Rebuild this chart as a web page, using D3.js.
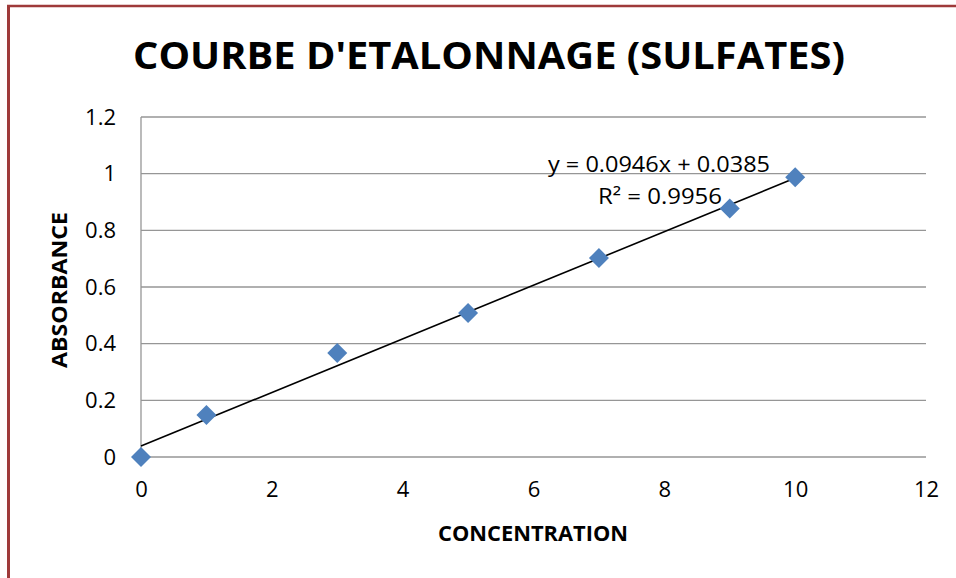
<!DOCTYPE html>
<html>
<head>
<meta charset="utf-8">
<script src="https://cdn.jsdelivr.net/npm/d3@7"></script>
<style>
  html, body { margin: 0; padding: 0; background: #fff; }
  svg { display: block; }
</style>
</head>
<body>
<svg id="chart" width="956" height="578"></svg>
<script>
// ---- data ----
const concentration = [0, 1, 3, 5, 7, 9, 10];
const absorbance = [0.0, 0.148, 0.367, 0.508, 0.702, 0.877, 0.987];
const xTicks = [0, 2, 4, 6, 8, 10, 12];
const yTicks = [0, 0.2, 0.4, 0.6, 0.8, 1, 1.2];
const slope = 0.0946;
const intercept = 0.0385;
const r2 = 0.9956;
const titleText = "COURBE D'ETALONNAGE (SULFATES)";
const xTitle = "CONCENTRATION";
const yTitle = "ABSORBANCE";

const svg = d3.select("#chart");
const font = "'Open Sans', Lato, sans-serif";

const x = d3.scaleLinear().domain([0, 12]).range([141, 926]);
const y = d3.scaleLinear().domain([0, 1.2]).range([457, 117]);

// frame (red/brown border on left and top)
svg.append("line").attr("x1", 8.5).attr("x2", 8.5).attr("y1", 5).attr("y2", 578)
  .attr("stroke", "#9e3a3a").attr("stroke-width", 3);
svg.append("line").attr("x1", 7).attr("x2", 956).attr("y1", 6).attr("y2", 6)
  .attr("stroke", "#9e3a3a").attr("stroke-width", 2.5);

// gridlines
svg.append("g").selectAll("line").data(yTicks).join("line")
  .attr("x1", x(0)).attr("x2", x(12))
  .attr("y1", d => y(d)).attr("y2", d => y(d))
  .attr("stroke", "#969696").attr("stroke-width", 1.3);

// left axis line
svg.append("line").attr("x1", x(0)).attr("x2", x(0)).attr("y1", y(1.2)).attr("y2", y(0))
  .attr("stroke", "#969696").attr("stroke-width", 1.3);

// y tick labels
const yAxis = d3.axisLeft(y).tickValues(yTicks).tickSize(0).tickPadding(25)
  .tickFormat(d => d3.format("~g")(d));
const gy = svg.append("g").attr("transform", `translate(${x(0)},0)`).call(yAxis);
gy.select(".domain").remove();
gy.selectAll("text").attr("font-family", font).attr("font-size", 22).attr("fill", "#000");

// x tick labels
const xAxis = d3.axisBottom(x).tickValues(xTicks).tickSize(0).tickPadding(24)
  .tickFormat(d3.format("d"));
const gx = svg.append("g").attr("transform", `translate(0,${y(0)})`).call(xAxis);
gx.select(".domain").remove();
gx.selectAll("text").attr("font-family", font).attr("font-size", 22).attr("fill", "#000");

// trendline
const xs = [d3.min(concentration), d3.max(concentration)];
svg.append("line")
  .attr("x1", x(xs[0])).attr("y1", y(slope * xs[0] + intercept))
  .attr("x2", x(xs[1])).attr("y2", y(slope * xs[1] + intercept))
  .attr("stroke", "#000").attr("stroke-width", 1.6);

// markers
const diamond = d3.symbol().type(d3.symbolSquare).size(200);
svg.append("g").selectAll("path").data(concentration).join("path")
  .attr("d", diamond)
  .attr("transform", (d, i) => `translate(${x(d)},${y(absorbance[i])}) rotate(45)`)
  .attr("fill", "#4f81bd");

// equation labels
svg.append("text").attr("x", 659).attr("y", 172).attr("text-anchor", "middle")
  .attr("font-family", font).attr("font-size", 22)
  .attr("textLength", 222).attr("lengthAdjust", "spacingAndGlyphs")
  .text(`y = ${slope}x + ${intercept}`);
svg.append("text").attr("x", 660).attr("y", 204).attr("text-anchor", "middle")
  .attr("font-family", font).attr("font-size", 22)
  .attr("textLength", 124).attr("lengthAdjust", "spacingAndGlyphs")
  .text(`R² = ${r2}`);

// title
svg.append("text").attr("x", 489).attr("y", 69).attr("text-anchor", "middle")
  .attr("font-family", font).attr("font-weight", "bold").attr("font-size", 38)
  .attr("textLength", 712).attr("lengthAdjust", "spacingAndGlyphs")
  .text(titleText);

// axis titles
svg.append("text").attr("x", 533).attr("y", 541).attr("text-anchor", "middle")
  .attr("font-family", font).attr("font-weight", "bold").attr("font-size", 21)
  .attr("textLength", 190).attr("lengthAdjust", "spacingAndGlyphs")
  .text(xTitle);
svg.append("text").attr("transform", "translate(67,290) rotate(-90)")
  .attr("text-anchor", "middle")
  .attr("font-family", font).attr("font-weight", "bold").attr("font-size", 21)
  .attr("textLength", 156).attr("lengthAdjust", "spacingAndGlyphs")
  .text(yTitle);
</script>
</body>
</html>
